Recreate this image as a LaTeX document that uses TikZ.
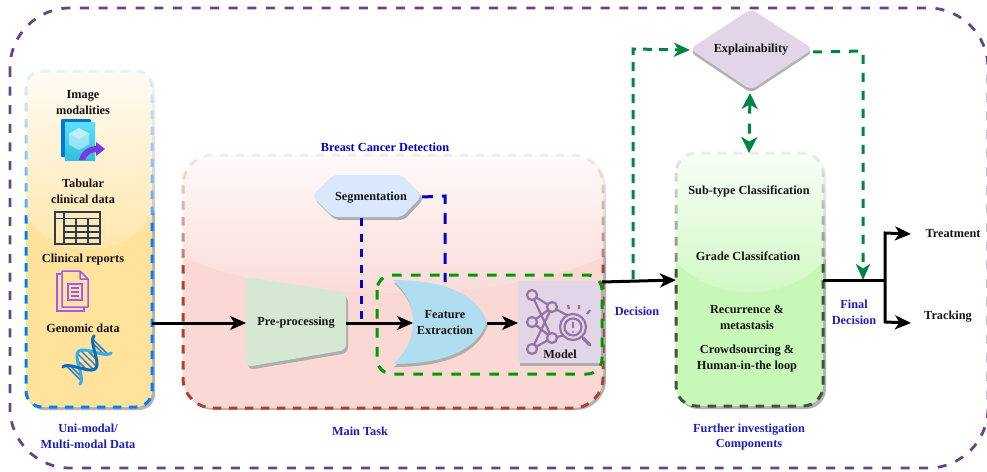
\documentclass[tikz,border=0pt]{standalone}
\usepackage{fontspec}
\setmainfont{Liberation Serif}
\usetikzlibrary{arrows.meta,calc,fadings}
\definecolor{outerc}{HTML}{664488}
\definecolor{dashblue}{HTML}{0080F5}
\definecolor{yellowf}{HTML}{FFE29B}
\definecolor{redf}{HTML}{FAD9D5}
\definecolor{redd}{HTML}{AE4132}
\definecolor{greenf}{HTML}{C8F8B8}
\definecolor{greend}{HTML}{3A5A3A}
\definecolor{purf}{HTML}{E1D5E7}
\definecolor{bluef}{HTML}{DAE8FC}
\definecolor{skyf}{HTML}{B1DDF0}
\definecolor{paleg}{HTML}{D5E8D4}
\definecolor{segd}{HTML}{0000CC}
\definecolor{modeld}{HTML}{009900}
\definecolor{expd}{HTML}{00853E}
\definecolor{labelb}{HTML}{1C1CC0}
\definecolor{iconp}{HTML}{9673A6}
\definecolor{docp}{HTML}{A259F0}
\definecolor{tabc}{HTML}{2E3E4E}
\definecolor{azd}{HTML}{0078D4}
\definecolor{azl}{HTML}{5CE0FF}
\definecolor{azm}{HTML}{32BEDD}
\definecolor{arrp}{HTML}{773ADC}
\definecolor{dnad}{HTML}{0F6CBD}
\definecolor{dnal}{HTML}{35B0E5}
\tikzfading[name=glass,top color=transparent!8,bottom color=transparent!82]
\tikzfading[name=glasspink,top color=transparent!8,bottom color=transparent!92]
\tikzset{
  x=1pt,y=-1pt,
  every node/.style={inner sep=0pt,outer sep=0pt,yshift=-1pt,font=\fontsize{12.3}{14.5}\selectfont\bfseries,align=center,text=black!92},
  lab/.style={text=labelb},
  ctr/.style={line width=3pt,draw=black},
  tip/.style={-{Stealth[length=16pt,width=14pt,inset=4.5pt]}},
  boxd/.style={line width=3pt,dash pattern=on 8.5pt off 7.5pt},
  shad/.style={fill=black!30,draw=none},
  gdash/.style={line width=3pt,draw=expd,dash pattern=on 9pt off 9pt},
  glassfill/.style={fill=white,path fading=glass},
}
\begin{document}
\begin{tikzpicture}
\useasboundingbox (0,0) rectangle (987,471);
% outer frame
\draw[line width=2.8pt,draw=outerc,dash pattern=on 9pt off 9.6pt,rounded corners=60pt] (10,8) rectangle (988,468);
% yellow box
\fill[shad,rounded corners=16pt] (28,73) rectangle (155,410);
\fill[yellowf,rounded corners=16pt] (26,71) rectangle (152,407);
\draw[dashblue,boxd,rounded corners=16pt] (26,71) rectangle (152,407);
\begin{scope}
\path[clip] (22,60) -- (156,60) -- (156,208) .. controls (130,263) and (48,263) .. (22,208) -- cycle;
\fill[glassfill] (20,66) rectangle (158,250);
\end{scope}
% main task box
\fill[shad,rounded corners=30pt] (185,157) rectangle (606,410);
\fill[redf,rounded corners=30pt] (183,155) rectangle (603,408);
\draw[redd,boxd,rounded corners=30pt] (183,155) rectangle (603,408);
\begin{scope}
\path[clip] (178,150) -- (608,150) -- (608,255) .. controls (500,306) and (290,306) .. (178,255) -- cycle;
\fill[fill=white,path fading=glasspink] (175,150) rectangle (610,293);
\end{scope}
% further box
\fill[shad,rounded corners=20pt] (678,155) rectangle (826,409);
\fill[greenf,rounded corners=20pt] (676,153) rectangle (823,406);
\draw[greend,boxd,rounded corners=20pt] (676,153) rectangle (823,406);
\begin{scope}
\path[clip] (670,148) -- (829,148) -- (829,255) .. controls (790,305) and (709,305) .. (670,255) -- cycle;
\fill[glassfill] (668,148) rectangle (831,293);
\end{scope}
% preprocessing
\fill[black!32,rounded corners=6pt] (248,280) -- (348,296) -- (348,353) -- (248,370) -- cycle;
\path[fill=paleg,rounded corners=6pt] (246,277) -- (346,293) -- (346,350) -- (246,367) -- cycle;
\node (pre) at (296,322) {Pre-processing};
\coordinate (preE) at (346,322);
\coordinate (preW) at (246,322);
% segmentation
\fill[black!32,rounded corners=5pt] (314,199) -- (335,178) -- (404,178) -- (424,199) -- (404,220) -- (335,220) -- cycle;
\path[fill=bluef,rounded corners=5pt] (312,196) -- (333,175) -- (402,175) -- (422,196) -- (402,217) -- (333,217) -- cycle;
\node (seg) at (371,197) {Segmentation};
\coordinate (segS) at (361,217);
\coordinate (segE) at (422,196);
% feature extraction
\fill[black!32] (394,283) .. controls (449,283) and (479,299) .. (488,325) .. controls (479,351) and (449,367) .. (394,367) .. controls (409,353) and (414,339) .. (414,325) .. controls (414,311) and (409,297) .. (394,283) -- cycle;
\path[fill=skyf] (393,280) .. controls (448,280) and (478,296) .. (487,322) .. controls (478,348) and (448,364) .. (393,364) .. controls (408,350) and (413,336) .. (413,322) .. controls (413,308) and (408,294) .. (393,280) -- cycle;
\node (fe) at (445,322) {Feature\\[1.5pt]Extraction};
\coordinate (feW) at (413,322);
\coordinate (feE) at (487,322);
\coordinate (feN) at (445,281);
% model
\fill[black!32] (520,284) rectangle (603,366);
\fill[purf] (518,281) rectangle (601,363);
\begin{scope}[iconp,line width=2.2pt]
\draw (532,295)--(552,307) (532,295)--(552,338) (552,307)--(532,322) (532,322)--(552,338) (552,307)--(532,349) (532,349)--(552,338) (552,307)--(572,318) (552,338)--(566,335);
\foreach \p in {(532,295),(552,307),(532,322),(552,338),(532,349)} \draw[fill=purf] \p circle (5pt);
\draw[fill=purf] (573,327) circle (13pt);
\draw (573,327) circle (8.5pt);
\draw[line width=3.5pt,line cap=round] (583,338)--(590,345);
\draw[line width=1.8pt] (573,322)--(573,328);
\fill (573,332) circle (1.1pt);
\draw (568,305)--(569,309) (579,305)--(579,309) (590,310)--(587,314);
\end{scope}
\node (model) at (560,353) {Model};
\coordinate (modW) at (518,322);
\coordinate (modE) at (602,281);
% dashed green container
\draw[modeld,line width=3pt,dash pattern=on 9.5pt off 9.5pt,rounded corners=15pt] (377,275) rectangle (602,374);
% explainability
\fill[black!30,rounded corners=6pt] (690,52) -- (751,12) -- (813,52) -- (751,93) -- cycle;
\path[fill=purf,rounded corners=6pt] (690,49) -- (751,9) -- (813,49) -- (751,90) -- cycle;
\node (exp) at (751,49) {Explainability};
\coordinate (expW) at (690,49);
\coordinate (expE) at (813,51);
\coordinate (expS) at (750,92);
\coordinate (furN) at (749,152);
\coordinate (furW) at (676,279);
\coordinate (furE) at (823,279);
\coordinate (yelE) at (152,322);
\coordinate (brT) at (885,279);
\coordinate (trtW) at (911,233);
\coordinate (trkW) at (911,322);
% connectors
\draw[ctr,tip] (yelE) -- (preW);
\draw[ctr,tip] (preE) -- (feW);
\draw[ctr,tip] (feE) -- (modW);
\draw[segd,line width=3pt,dash pattern=on 8pt off 7.5pt] (segS) -- (361,322);
\draw[segd,line width=3pt,dash pattern=on 11pt off 9pt] (segE) -- (445,196) -- (feN);
\draw[ctr,tip] (modE) -- (furW);
\draw[gdash,tip,dash pattern=on 9pt off 7pt] (633,279) -- (633,49) -- (expW);
\draw[gdash,tip] (expE) -- (863,51) -- (863,280);
\draw[gdash,{Stealth[length=16pt,width=16pt,inset=4.5pt]}-{Stealth[length=16pt,width=16pt,inset=4.5pt]},dash pattern=on 10pt off 10pt] (expS) -- (furN);
\draw[ctr] (furE) -- (brT);
\draw[ctr,tip] (brT) -- (885,233) -- (trtW);
\draw[ctr,tip] (brT) -- (885,322) -- (trkW);
% labels
\node (l1) at (83,102) {Image\\[1.5pt]modalities};
\node (l2) at (83,190) {Tabular\\[1.5pt]clinical data};
\node (l3) at (83,259) {Clinical reports};
\node (l4) at (83,327) {Genomic data};
\node[lab] (l5) at (88,435) {Uni-modal/\\[1.5pt]Multi-modal Data};
\node[text=segd] (l6) at (385,146) {Breast Cancer Detection};
\node[lab] (l7) at (360,430) {Main Task};
\node (l8) at (749,190) {Sub-type Classification};
\node (l9) at (748,255) {Grade Classifcation};
\node (l10) at (747,316) {Recurrence \&\\[1.5pt]metastasis};
\node (l11) at (747,358) {Crowdsourcing \&\\[1.5pt]Human-in-the loop};
\node[lab] (l12) at (749,436) {Further investigation\\[1pt]Components};
\node[lab] (l13) at (637,310) {Decision};
\node[lab] (l14) at (854,311) {Final\\[1.5pt]Decision};
\node (l15) at (953,233) {Treatment};
\node (l16) at (948,316) {Tracking};
% image icon
\fill[azd,rounded corners=1pt] (61,119) rectangle (91,157);
\shade[top color=azl,bottom color=azm] (65,122) rectangle (95,160);
\fill[white,opacity=.45] (79,128) -- (89,133.5) -- (89,144.5) -- (79,150) -- (69,144.5) -- (69,133.5) -- cycle;
\fill[white,opacity=.35] (79,128) -- (89,133.5) -- (79,139) -- (69,133.5) -- cycle;
\fill[arrp] (79,160) .. controls (81,152) and (87,146.5) .. (96,146) -- (96,142) -- (105,149) -- (96,156) -- (96,152) .. controls (91,152) and (87,155) .. (85,160) -- cycle;
% table icon
\draw[tabc,line width=1.6pt] (55,212) rectangle (100,244) (55,218.5)--(100,218.5) (64,212)--(64,244) (76,218.5)--(76,244) (88,218.5)--(88,244) (64,226)--(100,226) (64,232)--(100,232) (64,238)--(100,238);
% report icon
\draw[docp,line width=1.5pt] (61,274) -- (57,274) -- (57,311) -- (84,311) -- (84,307);
\draw[docp,line width=1.5pt,line join=round] (62,271) -- (80,271) -- (88,279) -- (88,307) -- (62,307) -- cycle (80,271) -- (80,279) -- (88,279);
\draw[docp,line width=1.3pt] (68,284) rectangle (82,300) (71,288)--(79,288) (71,292)--(79,292) (71,296)--(79,296);
% dna icon
\foreach \t in {-0.85,-0.72,-0.32,-0.1,0.1,0.32,0.72,0.85}
  \draw[dnad!85,line width=1.5pt] ({87+0.71*(22*\t+11*cos(180*\t))},{360+0.71*(-22*\t+11*cos(180*\t))}) -- ({87+0.71*(22*\t-11*cos(180*\t))},{360+0.71*(-22*\t-11*cos(180*\t))});
\draw[dnal,line width=3pt,line cap=round] plot[domain=-1:1,samples=40,smooth] ({87+0.71*(22*\x-12*cos(180*\x))},{360+0.71*(-22*\x-12*cos(180*\x))});
\draw[dnad,line width=3pt,line cap=round] plot[domain=-1:1,samples=40,smooth] ({87+0.71*(22*\x+12*cos(180*\x))},{360+0.71*(-22*\x+12*cos(180*\x))});
\end{tikzpicture}
\end{document}
